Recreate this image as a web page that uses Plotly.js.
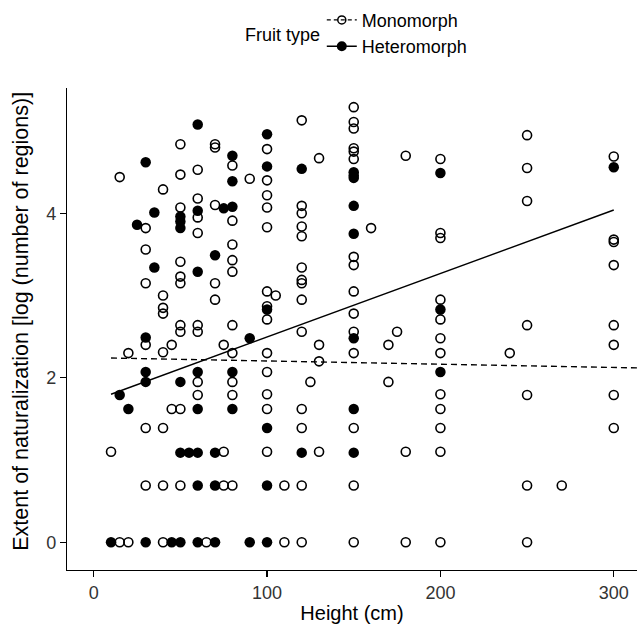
<!DOCTYPE html>
<html>
<head>
<meta charset="utf-8">
<script src="https://cdn.plot.ly/plotly-3.0.1.min.js"></script>
<style>html,body{margin:0;padding:0;background:#fff;}#chart{width:637px;height:624px;}</style>
</head>
<body>
<div id="chart"></div>
<script>
// Monomorph (open circles)
const monoHeight = [
  10,
  15, 15,
  20, 20,
  30, 30, 30, 30, 30, 30,
  40, 40, 40, 40, 40, 40, 40, 40,
  45, 45,
  50, 50, 50, 50, 50, 50, 50, 50, 50, 50,
  60, 60, 60, 60, 60, 60, 60, 60,
  65,
  70, 70, 70, 70, 70,
  75, 75, 75,
  80, 80, 80, 80, 80, 80, 80, 80, 80, 80,
  90,
  100, 100, 100, 100, 100, 100, 100, 100, 100, 100, 100, 100, 100,
  105,
  110, 110,
  120, 120, 120, 120, 120, 120, 120, 120, 120, 120, 120, 120, 120, 120,
  125,
  130, 130, 130, 130,
  150, 150, 150, 150, 150, 150, 150, 150, 150, 150, 150, 150, 150, 150, 150,
  160,
  170, 170,
  175,
  180, 180, 180,
  200, 200, 200, 200, 200, 200, 200, 200, 200, 200, 200, 200,
  240,
  250, 250, 250, 250, 250, 250, 250,
  270,
  300, 300, 300, 300, 300, 300, 300, 300
];
const monoExtent = [
  1.10,
  4.44, 0,
  2.30, 0,
  3.82, 3.56, 3.15, 2.40, 1.39, 0.69,
  4.29, 3.00, 2.85, 2.78, 2.31, 1.39, 0.69, 0,
  2.40, 1.62,
  4.84, 4.47, 4.07, 3.41, 3.23, 3.15, 2.64, 2.56, 1.62, 0.69,
  4.53, 4.18, 3.95, 3.76, 2.64, 2.56, 1.95, 1.79,
  0,
  4.84, 4.80, 4.10, 3.15, 2.95,
  2.40, 1.10, 0.69,
  4.58, 3.91, 3.62, 3.43, 3.29, 2.64, 2.30, 1.95, 1.79, 0.69,
  4.42,
  4.78, 4.40, 4.22, 4.07, 3.83, 3.05, 2.87, 2.71, 2.30, 2.07, 1.80, 1.62, 1.10,
  3.00,
  0.69, 0,
  5.13, 4.09, 4.00, 3.84, 3.72, 3.34, 3.19, 3.15, 2.95, 2.56, 1.62, 1.39, 0.69, 0,
  1.95,
  4.67, 2.40, 2.20, 1.10,
  5.29, 5.11, 5.03, 4.79, 4.75, 4.66, 3.47, 3.37, 3.05, 2.78, 2.56, 2.30, 1.39, 0.69, 0,
  3.82,
  2.40, 1.95,
  2.56,
  4.70, 1.10, 0,
  4.66, 3.76, 3.70, 2.95, 2.71, 2.48, 2.30, 1.80, 1.62, 1.39, 1.10, 0,
  2.30,
  4.95, 4.55, 4.15, 2.64, 1.79, 0.69, 0,
  0.69,
  4.69, 3.68, 3.65, 3.37, 2.64, 2.40, 1.79, 1.39
];

// Heteromorph (filled circles)
const heteroHeight = [
  10,
  15,
  20,
  25,
  30, 30, 30, 30, 30,
  35, 35,
  45,
  50, 50, 50, 50, 50, 50,
  55,
  60, 60, 60, 60, 60, 60, 60, 60,
  70, 70, 70, 70,
  75,
  80, 80, 80, 80, 80,
  90, 90,
  100, 100, 100, 100, 100, 100,
  120, 120,
  150, 150, 150, 150, 150, 150, 150, 150,
  200, 200, 200,
  300
];
const heteroExtent = [
  0,
  1.79,
  1.62,
  3.86,
  4.62, 2.49, 2.07, 1.95, 0,
  4.01, 3.34,
  0,
  3.96, 3.90, 3.82, 1.95, 1.09, 0,
  1.09,
  5.08, 4.03, 3.29, 2.07, 1.62, 1.09, 0.69, 0,
  3.49, 1.09, 0.69, 0,
  4.06,
  4.70, 4.39, 4.08, 2.07, 1.62,
  2.48, 0,
  4.96, 4.57, 2.83, 1.39, 0.69, 0,
  4.54, 1.09,
  4.50, 4.46, 4.43, 4.09, 3.75, 2.48, 1.62, 1.09,
  4.49, 2.83, 2.07,
  4.56
];

// Fitted lines (end points)
const monoFitHeight = [10, 314];
const monoFitExtent = [2.24, 2.12];
const heteroFitHeight = [10, 300];
const heteroFitExtent = [1.80, 4.04];

const xTicks = [0, 100, 200, 300];
const yTicks = [0, 2, 4];
const seriesNames = ['Monomorph', 'Heteromorph'];
const legendTitle = 'Fruit type';
const xTitle = 'Height (cm)';
const yTitle = 'Extent of naturalization [log (number of regions)]';

const FONT = 'Liberation Sans, Arial, Helvetica, sans-serif';

const traces = [
  {x: monoHeight, y: monoExtent, type: 'scatter', mode: 'markers', showlegend: false,
   marker: {symbol: 'circle-open', size: 9, color: '#000', line: {width: 1.6, color: '#000'}}, cliponaxis: false},
  {x: heteroHeight, y: heteroExtent, type: 'scatter', mode: 'markers', showlegend: false,
   marker: {symbol: 'circle', size: 10.5, color: '#000'}, cliponaxis: false},
  {x: monoFitHeight, y: monoFitExtent, type: 'scatter', mode: 'lines', showlegend: false,
   line: {color: '#000', width: 1.4, dash: '6px,4px'}},
  {x: heteroFitHeight, y: heteroFitExtent, type: 'scatter', mode: 'lines', showlegend: false,
   line: {color: '#000', width: 1.4}},
  // legend keys
  {x: [null], y: [null], type: 'scatter', mode: 'lines+markers', name: seriesNames[0],
   line: {color: '#000', width: 1.4, dash: '4px,3px'},
   marker: {symbol: 'circle-open', size: 8, color: '#000', line: {width: 1.5, color: '#000'}}},
  {x: [null], y: [null], type: 'scatter', mode: 'lines+markers', name: seriesNames[1],
   line: {color: '#000', width: 1.6},
   marker: {symbol: 'circle', size: 10, color: '#000'}}
];

const layout = {
  width: 637, height: 624,
  margin: {l: 67, r: 0, t: 88, b: 54},
  paper_bgcolor: '#fff', plot_bgcolor: '#fff',
  font: {family: FONT, color: '#000'},
  showlegend: true,
  legend: {
    orientation: 'v', x: 0.447, y: 1.179, xanchor: 'left', yanchor: 'top',
    font: {family: FONT, size: 18, color: '#000'}, bgcolor: 'rgba(0,0,0,0)',
    itemwidth: 30, tracegroupgap: 0
  },
  annotations: [
    {
      text: legendTitle, xref: 'paper', yref: 'paper', x: 0.309, y: 1.11,
      xanchor: 'left', yanchor: 'middle', showarrow: false,
      font: {family: FONT, size: 18, color: '#000'}
    },
    {
      text: yTitle, xref: 'paper', yref: 'paper', x: -0.0807, y: 0.515,
      xanchor: 'center', yanchor: 'middle', textangle: -90, showarrow: false,
      font: {family: FONT, size: 21.5, color: '#000'}
    }
  ],
  xaxis: {
    range: [-15.4, 313.4], tickvals: xTicks, ticktext: xTicks.map(String),
    showline: true, linecolor: '#000', linewidth: 1.2, mirror: false,
    ticks: 'outside', ticklen: 6, tickwidth: 1.2, tickcolor: '#000',
    showgrid: false, zeroline: false,
    tickfont: {family: FONT, size: 18, color: '#333'},
    title: {text: xTitle, font: {family: FONT, size: 20, color: '#000'}, standoff: 8}
  },
  yaxis: {
    range: [-0.337, 5.523], tickvals: yTicks, ticktext: yTicks.map(String),
    showline: true, linecolor: '#000', linewidth: 1.2, mirror: false,
    ticks: 'outside', ticklen: 6, tickwidth: 1.2, tickcolor: '#000',
    showgrid: false, zeroline: false,
    tickfont: {family: FONT, size: 18, color: '#333'}
  }
};

Plotly.newPlot('chart', traces, layout, {displayModeBar: false, staticPlot: true});
</script>
</body>
</html>
